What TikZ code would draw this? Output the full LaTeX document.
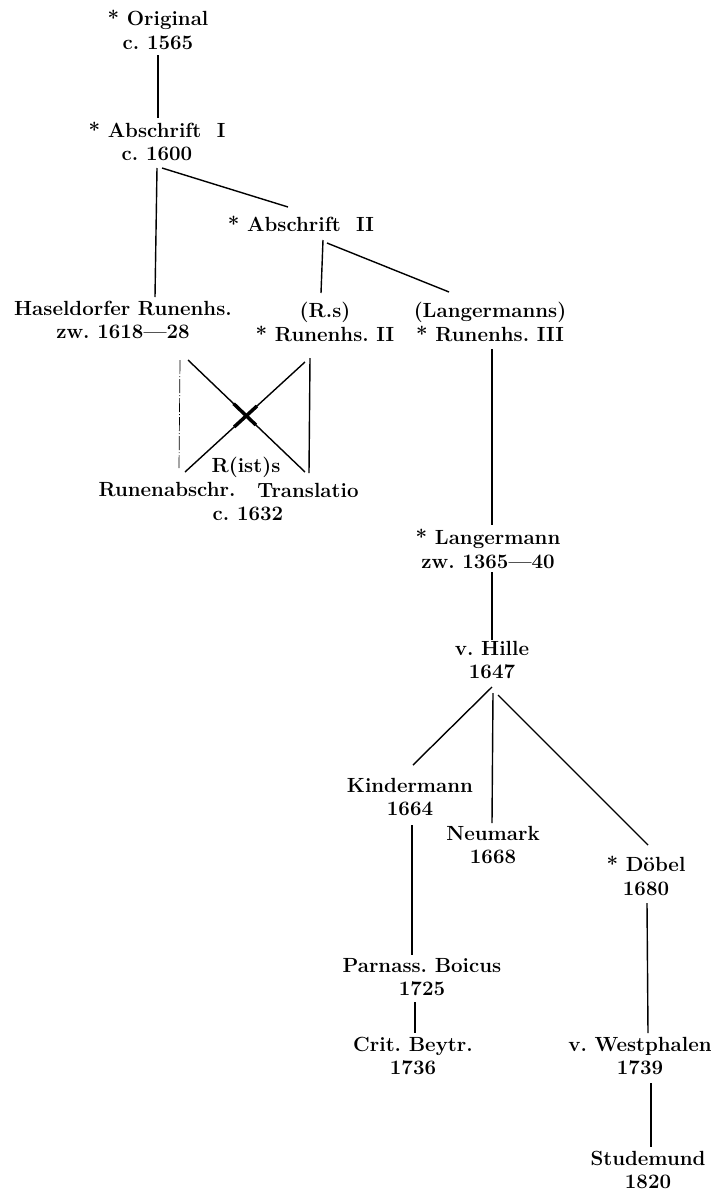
\documentclass[tikz,border=0pt]{standalone}
\usepackage{fontspec}
\usetikzlibrary{calc}
\begin{document}
\begin{tikzpicture}[x=1pt,y=-1pt,
  lbl/.style={inner sep=0pt,align=center,font=\fontsize{20.5}{23.5}\selectfont\bfseries\frenchspacing},
  link/.style={line width=1.4pt},
  faint/.style={line width=0.7pt,dash pattern=on 14pt off 2pt on 1pt off 2pt},
  boldx/.style={line width=3.5pt}]
\useasboundingbox (0,0) rectangle (710,1191);
% nodes
\node[lbl] (orig) at (158,30) {* Original\\c. 1565};
\node[lbl] (ab1) at (157,141.5) {* Abschrift\ \ I\\c. 1600};
\node[lbl] (ab2) at (301,224) {* Abschrift\ \ II};
\node[lbl] (hasel) at (123,320) {Haseldorfer Runenhs.\\zw. 1618---28};
\node[lbl] (rs2) at (325,322) {(R.s)\\* Runenhs. II};
\node[lbl] (lang3) at (490,322) {(Langermanns)\\* Runenhs. III};
\node[lbl] (rist) at (246,467) {R(ist)s};
\node[lbl] (runab) at (167,490) {Runenabschr.};
\node[lbl] (transl) at (308,490) {Translatio};
\node[lbl] (c1632) at (248,514) {c. 1632};
\node[lbl] (langer) at (488,549) {* Langermann\\zw. 1365---40};
\node[lbl] (hille) at (492,660) {v. Hille\\1647};
\node[lbl] (kinder) at (410,797) {Kindermann\\1664};
\node[lbl] (neumark) at (493,845) {Neumark\\1668};
\node[lbl] (doebel) at (646,876) {* Döbel\\1680};
\node[lbl] (parnass) at (422,977) {Parnass. Boicus\\1725};
\node[lbl] (crit) at (413,1056) {Crit. Beytr.\\1736};
\node[lbl] (westph) at (640,1056) {v. Westphalen\\1739};
\node[lbl] (stud) at (648,1170) {Studemund\\1820};
% connectors
\draw[link] ([shift={(0,25)}]orig.center) -- ([shift={(1,-23.5)}]ab1.center);
\draw[link] ([shift={(0,26.5)}]ab1.center) -- ([shift={(32,-23)}]hasel.center);
\draw[link] ([shift={(5,26.5)}]ab1.center) -- ([shift={(-13,-17)}]ab2.center);
\draw[link] ([shift={(22,16)}]ab2.center) -- ([shift={(-4,-29)}]rs2.center);
\draw[link] ([shift={(26,19)}]ab2.center) -- ([shift={(-41,-30)}]lang3.center);
\draw[link] ([shift={(2,27)}]lang3.center) -- ([shift={(4,-24)}]langer.center);
\draw[link] ([shift={(4,23)}]langer.center) -- ([shift={(0,-20)}]hille.center);
\draw[link] ([shift={(0,27)}]hille.center) -- ([shift={(3,-32)}]kinder.center);
\draw[link] ([shift={(1,33)}]hille.center) -- ([shift={(-1,-22)}]neumark.center);
\draw[link] ([shift={(6,35)}]hille.center) -- ([shift={(2,-31)}]doebel.center);
\draw[link] ([shift={(2,28)}]kinder.center) -- ([shift={(-10,-22)}]parnass.center);
\draw[link] ([shift={(-7,25)}]parnass.center) -- ([shift={(2,-23)}]crit.center);
\draw[link] ([shift={(1,27)}]doebel.center) -- ([shift={(8,-23)}]westph.center);
\draw[link,line width=2pt] ([shift={(11,27)}]westph.center) -- ([shift={(3,-23)}]stud.center);
% the crossing
\draw[faint] ([shift={(57,40)}]hasel.center) -- ([shift={(12,-22)}]runab.center);
\coordinate (hA) at ([shift={(65,40)}]hasel.center);
\coordinate (tA) at ([shift={(-3,-18)}]transl.center);
\coordinate (rA) at ([shift={(-20,40)}]rs2.center);
\coordinate (uA) at ([shift={(18,-18)}]runab.center);
\draw[link] (hA) -- (tA);
\draw[link] (rA) -- (uA);
\draw[link] ([shift={(-15,36)}]rs2.center) -- ([shift={(1,-17)}]transl.center);
\draw[boldx] ($(hA)!0.39!(tA)$) -- ($(hA)!0.58!(tA)$);
\draw[boldx] ($(rA)!0.40!(uA)$) -- ($(rA)!0.59!(uA)$);
\end{tikzpicture}
\end{document}
